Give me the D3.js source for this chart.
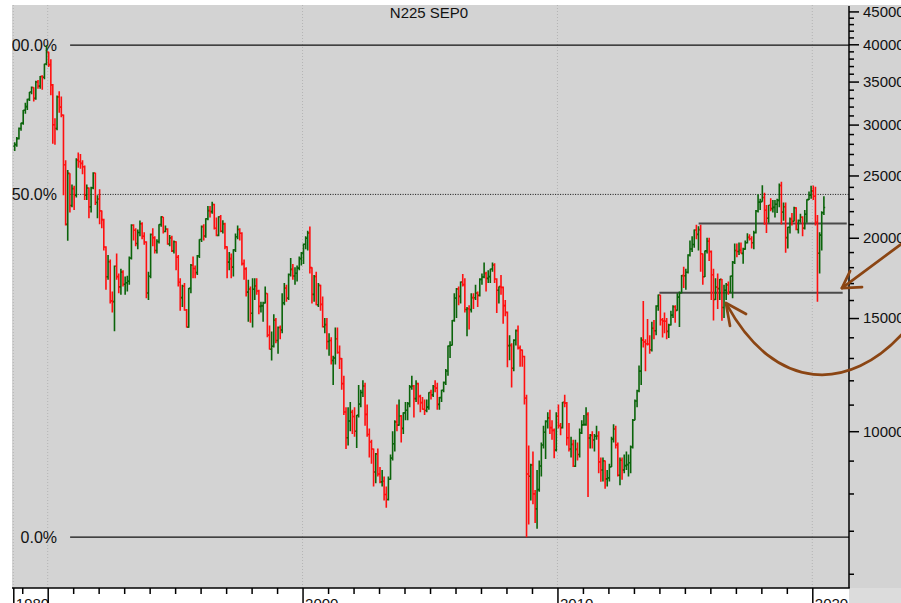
<!DOCTYPE html>
<html><head><meta charset="utf-8">
<script src="https://cdn.jsdelivr.net/npm/d3@7"></script>
<style>
html,body{margin:0;padding:0;background:#fff;}
svg{display:block;font-family:"Liberation Sans",Arial,Helvetica,sans-serif;}
</style>
</head><body>
<svg id="chart" width="901" height="603"></svg>
<script>
// ---------------- DATA ----------------
const chartTitle = "N225 SEP0";
const firstMonth = [1988, 8];   // September 1988, monthly bars

const open = [
27770,27920,28530,29580,
30160,31580,31990,32840,33710,34270,32950,34950,34430,35640,35550,37270,
38920,37190,34590,29980,29580,33130,31940,31040,25980,20980,25190,22450,
23850,23290,26410,26290,26110,25790,23290,23900,22340,23920,25220,22690,
22980,22020,21340,19350,17390,18350,15950,15910,18060,17400,16770,17680,
16930,17020,17110,18590,20920,20550,19590,20380,21030,20110,19700,16410,
17420,20230,20000,19110,19730,20970,21550,20450,20630,19560,19990,19080,
19720,18650,17050,16140,16810,15440,14520,16680,18120,17910,17650,18740,
19870,20810,20130,21410,22040,21960,22530,20690,20170,21560,20470,21020,
19360,18330,18560,18000,19150,20070,20600,20330,18230,17890,16460,16640,
15260,16630,16830,16530,15640,15670,15830,16380,14110,13410,13560,14880,
13840,14500,14370,15840,16700,16110,17530,17860,17440,17610,17940,18560,
18930,19540,19960,20340,17970,16330,17410,15730,16860,15750,14540,14650,
13790,13840,12880,13000,13930,13260,12970,11860,10710,9770,10370,10700,
10540,10000,10590,11020,11490,11760,10620,9880,9620,9380,8640,9220,
8580,8340,8360,7970,7830,8420,9080,9560,10340,10220,10560,10100,
10680,10780,11040,11720,11760,11240,11860,11330,11080,10820,10770,10900,
11490,11390,11740,11670,11010,11280,11580,11900,12410,13570,13610,14870,
16110,16650,16210,17060,16910,15470,15510,15460,16140,16130,16400,16270,
17230,17380,17600,17290,17400,17880,18140,17250,16570,16790,16740,15680,
15310,13590,13600,12530,13850,14340,13480,13380,13070,11260,8580,8510,
8860,7990,7570,8110,8830,9520,9960,10360,10490,10130,10030,9350,
10550,10200,10130,11090,11060,9770,9380,9540,8820,9370,9200,9940,
10230,10240,10620,9760,9850,9690,9820,9830,8960,8700,8990,8430,
8460,8800,9720,10080,9520,8540,9010,8700,8840,8870,8930,9450,
10400,11140,11560,12400,13860,13770,13680,13670,13390,14460,14330,15660,
16290,14910,14840,14830,14300,14630,15160,15620,15420,16170,16410,17460,
17450,17670,18800,19210,19520,20560,20240,20590,18890,17390,19080,19750,
19030,17520,16030,16760,16670,17230,15580,16570,16890,16450,17430,18310,
19110,19040,19120,18910,19200,19650,20030,19930,19650,20360,22010,22720,
22760,23100,22070,21450,22470,22200,22300,22550,22870,24120,21920,22350,
20010,20770,21390,21210,22260,20600,21280,21520,20700,21760,22930,23290,
23660,23210,21140,18920,20190,21880
];
const high = [
28160,28700,29700,30200,
31600,32450,32900,33720,34400,34300,35100,35200,35700,35800,37300,39880,
38950,37900,34700,30700,33300,33800,33180,31100,26400,25500,25200,24200,
24100,26600,27150,27000,26400,25900,24200,23950,24000,25300,25250,23300,
23800,22050,21400,19400,18800,18500,16500,18100,18900,17600,17900,17800,
17400,17450,18700,21000,21000,20700,20600,21280,21150,20400,19750,17700,
20300,20700,20100,19900,21000,21600,21550,20900,20700,20200,20150,19800,
19750,18800,17300,16900,17000,15500,16700,18200,18700,18100,18800,19900,
20900,21000,21450,22400,22400,22750,22600,21500,21600,21700,21300,21100,
19400,19000,18900,19200,20300,20900,20700,20400,18500,18000,17200,16800,
17300,17300,17300,16600,15900,15900,16800,16400,14600,14300,15200,15000,
14550,14600,16400,17000,16900,17600,18600,18200,18000,18100,18700,19000,
19600,20100,20500,20830,18000,17500,17700,17000,16900,16200,15000,15000,
14200,14000,13100,14500,14500,13600,13000,12200,10900,10900,11100,10800,
10900,10600,11800,11600,12000,11900,11000,10100,9700,9400,9250,9400,
8800,8700,8500,8200,8500,9200,10000,10400,11000,11200,10600,10700,
11100,11100,11800,12200,11800,12000,11900,11400,11300,11200,11200,11500,
11600,11800,12000,11900,11300,11600,11950,12500,13600,13800,14900,16400,
16700,16800,17100,17560,17300,15600,15700,16400,16400,16900,16500,17300,
17600,18300,17700,17800,17900,18300,18260,17300,16800,17500,16800,16000,
15350,14100,13700,13900,14400,14600,13600,13400,13100,11400,9500,8900,
9300,8100,8700,9000,9600,10200,10400,10700,10800,10400,10100,10700,
11000,10300,11100,11400,11100,10300,9800,9700,9700,9600,10100,10400,
10600,10900,10700,9900,10000,9900,10200,10000,9100,9100,9000,8700,
8900,9800,10250,10200,9600,9100,9100,9200,9300,9200,9500,10450,
11200,11600,12650,14000,15940,13900,14950,14100,14800,14900,15700,16320,
16300,15000,15300,15000,14700,15400,15700,15700,16400,16500,17500,18030,
17900,18850,19800,20100,20600,20950,20850,20950,18900,19100,20000,20000,
19100,17900,17300,17600,17250,17250,16900,17000,17100,17450,18400,19600,
19600,19670,19670,19300,19800,20320,20250,20100,20500,22100,23380,23000,
24130,23500,22500,22500,23050,22900,22900,23000,24300,24450,22700,22700,
20800,21500,21850,22350,22300,21350,21800,21600,22100,22950,23600,24090,
24120,24000,21700,20400,22000,23200
];
const low = [
27300,27720,28450,29350,
29990,31200,31600,32650,33450,32600,32800,34100,34100,34000,35300,37100,
36860,33320,28000,27900,29400,31300,30800,23300,20900,19780,21900,22300,
22100,23100,25700,25600,25100,22900,22900,21450,21900,23800,22500,21450,
21000,20700,19100,16600,17200,15800,15300,14310,17200,16400,16300,16800,
16300,16500,16900,18500,19800,19400,19200,20100,19900,19500,16100,16000,
17300,19400,18900,18900,19600,20800,20300,20400,19500,19400,19000,18900,
17800,16800,15400,15600,15400,14500,14490,16400,17300,17300,17500,18600,
19700,19800,20000,21300,21500,21800,20600,20100,20100,20400,20300,19200,
17300,17800,17300,17400,19000,19900,19800,18100,17200,16200,14800,14750,
14500,16000,16300,15200,15300,14800,15800,14000,13400,12880,13500,13700,
13200,13900,14200,15700,15900,16000,17400,17200,16900,17100,17800,18100,
18200,19200,19100,17600,15800,15900,15700,15600,15400,14500,14200,13400,
13100,12700,11800,12700,13200,12500,11600,10600,9380,9500,10000,9900,
9800,9420,10500,10900,11300,10200,9800,9100,8900,8200,8300,8500,
8300,8200,7800,7600,7800,8400,9000,9300,10000,10200,9600,9900,
10400,10400,10900,11600,10500,11100,11000,10700,10800,10600,10700,10800,
11200,11300,11500,10800,10800,11100,11500,11800,12200,13000,13600,14800,
15000,15700,15800,16800,15300,14050,14400,15300,15500,16000,15600,16200,
16900,17300,16500,17000,17000,17700,17000,15270,15800,16300,14700,15100,
12570,12900,11690,12400,13600,13400,12600,12600,11000,6840,7160,7800,
7700,7200,7050,8050,8500,9400,9050,10100,9900,9700,9080,9300,
10100,9860,10100,10900,9500,9300,9100,8800,8800,9000,9100,9900,
10200,10200,7900,9400,9400,9300,9700,8600,8340,8350,8140,8200,
8350,8800,9600,9400,8500,8240,8400,8600,8700,8500,8600,9400,
10400,10900,11500,11800,13500,12400,13600,13200,13300,13900,14100,15400,
14600,13990,14200,13900,13960,14600,15000,14750,15400,14530,16400,16700,
16600,17600,18700,19000,19300,19900,19100,17700,16900,17380,18900,18400,
16000,14870,16000,15500,16000,14860,15000,16000,16300,16400,16100,18200,
18650,18800,18900,18220,19150,19600,19800,19250,19200,20300,21900,22100,
22750,20950,20350,21100,22000,21900,21500,21850,22300,20970,21250,18950,
19250,20300,20900,21200,20550,20300,21100,20110,20600,21100,22900,23000,
22900,20900,15900,17600,19100,21700
];
const close = [
27920,28530,29580,30160,
31580,31990,32840,33710,34270,32950,34950,34430,35640,35550,37270,38920,
37190,34590,29980,29580,33130,31940,31040,25980,20980,25190,22450,23850,
23290,26410,26290,26110,25790,23290,23900,22340,23920,25220,22690,22980,
22020,21340,19350,17390,18350,15950,15910,18060,17400,16770,17680,16930,
17020,17110,18590,20920,20550,19590,20380,21030,20110,19700,16410,17420,
20230,20000,19110,19730,20970,21550,20450,20630,19560,19990,19080,19720,
18650,17050,16140,16810,15440,14520,16680,18120,17910,17650,18740,19870,
20810,20130,21410,22040,21960,22530,20690,20170,21560,20470,21020,19360,
18330,18560,18000,19150,20070,20600,20330,18230,17890,16460,16640,15260,
16630,16830,16530,15640,15670,15830,16380,14110,13410,13560,14880,13840,
14500,14370,15840,16700,16110,17530,17860,17440,17610,17940,18560,18930,
19540,19960,20340,17970,16330,17410,15730,16860,15750,14540,14650,13790,
13840,12880,13000,13930,13260,12970,11860,10710,9770,10370,10700,10540,
10000,10590,11020,11490,11760,10620,9880,9620,9380,8640,9220,8580,
8340,8360,7970,7830,8420,9080,9560,10340,10220,10560,10100,10680,
10780,11040,11720,11760,11240,11860,11330,11080,10820,10770,10900,11490,
11390,11740,11670,11010,11280,11580,11900,12410,13570,13610,14870,16110,
16650,16210,17060,16910,15470,15510,15460,16140,16130,16400,16270,17230,
17380,17600,17290,17400,17880,18140,17250,16570,16790,16740,15680,15310,
13590,13600,12530,13850,14340,13480,13380,13070,11260,8580,8510,8860,
7990,7570,8110,8830,9520,9960,10360,10490,10130,10030,9350,10550,
10200,10130,11090,11060,9770,9380,9540,8820,9370,9200,9940,10230,
10240,10620,9760,9850,9690,9820,9830,8960,8700,8990,8430,8460,
8800,9720,10080,9520,8540,9010,8700,8840,8870,8930,9450,10400,
11140,11560,12400,13860,13770,13680,13670,13390,14460,14330,15660,16290,
14910,14840,14830,14300,14630,15160,15620,15420,16170,16410,17460,17450,
17670,18800,19210,19520,20560,20240,20590,18890,17390,19080,19750,19030,
17520,16030,16760,16670,17230,15580,16570,16890,16450,17430,18310,19110,
19040,19120,18910,19200,19650,20030,19930,19650,20360,22010,22720,22760,
23100,22070,21450,22470,22200,22300,22550,22870,24120,21920,22350,20010,
20770,21390,21210,22260,20600,21280,21520,20700,21760,22930,23290,23660,
23210,21140,18920,20190,21880,22290
];

const priceTickLabels = ["10000","15000","20000","25000","30000","35000","40000","45000"];
const priceTickValues = [10000,15000,20000,25000,30000,35000,40000,45000];
const decadeTickLabels = ["1980","","2000","2010","2020"];
const decadeTickYears  = [1988.65,1990,2000,2010,2020];
const retraceLabels = ["100.0%","50.0%","0.0%"];
const retraceRatios = [1, 0.5, 0];
const retraceStartYear = 1990.88;

const supportLevels = [21050, 16420];
const supportStartYears = [2015.54, 2014.0];
const supportEndYears = [2021.35, 2021.19];

// hand-drawn annotations, in [year, price]
const arrowLine = [[2023.6,19700],[2021.16,16700]];
const arrowLineHead = [[2021.48,17750],[2021.16,16700],[2021.95,16760]];
const arrowCurve = [[2023.6,14270],[2021.48,11470],[2018.54,11470],[2016.65,15720]];
const arrowCurveHead = [[2017.40,15220],[2016.61,15830],[2016.77,14580]];

// ---------------- LAYOUT ----------------
const W = 901, H = 603;
const plotL = 12, plotR = 849, plotT = 5, plotB = 588;
const GREEN = "#0b640b", RED = "#ff1010", BROWN = "#8b4513";

const svg = d3.select("#chart");
const yr = v => { const y = Math.floor(v); const f = v - y;
  const a = new Date(y,0,1), b = new Date(y+1,0,1);
  return new Date(+a + f*(b-a)); };

const x = d3.scaleTime().domain([new Date(1990,0,1), new Date(2020,0,1)]).range([47.7, 812.3]);
const y = d3.scaleLog().domain([10000, 40000]).range([431.2, 44.3]);

// backgrounds
svg.append("rect").attr("width",W).attr("height",H).attr("fill","#ffffff");
svg.append("rect").attr("x",plotL).attr("y",plotT).attr("width",W-plotL).attr("height",plotB-plotT).attr("fill","#d3d3d3");
svg.append("rect").attr("x",plotR).attr("y",plotB).attr("width",W-plotR).attr("height",H-plotB).attr("fill","#dcdcdc");

svg.append("clipPath").attr("id","clip").append("rect")
  .attr("x",plotL).attr("y",plotT).attr("width",plotR-plotL).attr("height",plotB-plotT);
const g = svg.append("g").attr("clip-path","url(#clip)");

// vertical dotted grid
g.selectAll("line.vg").data(decadeTickYears).join("line")
  .attr("x1",d=>x(yr(d))).attr("x2",d=>x(yr(d))).attr("y1",plotT).attr("y2",plotB)
  .attr("stroke","#b4b4b4").attr("stroke-width",1).attr("stroke-dasharray","1,2");

// retracement levels
const hiMax = d3.max(high), loMin = d3.min(low);
const levels = retraceRatios.map(r => loMin + r*(hiMax-loMin));
g.selectAll("line.lv").data(levels).join("line")
  .attr("x1",x(yr(retraceStartYear))).attr("x2",plotR)
  .attr("y1",d=>y(d)).attr("y2",d=>y(d))
  .attr("stroke","#111").attr("stroke-width",(d,i)=>i===1?1:1.3)
  .attr("stroke-dasharray",(d,i)=>i===1?"1,1.5":null);
g.selectAll("text.lv").data(levels).join("text")
  .attr("x",57).attr("y",d=>y(d)).attr("dy","0.36em")
  .attr("text-anchor","end").attr("font-size",16).attr("fill","#111")
  .text((d,i)=>retraceLabels[i]);

// support lines
g.selectAll("line.sp").data(supportLevels).join("line")
  .attr("x1",(d,i)=>x(yr(supportStartYears[i]))).attr("x2",(d,i)=>x(yr(supportEndYears[i])))
  .attr("y1",d=>y(d)).attr("y2",d=>y(d))
  .attr("stroke","#4a4a4a").attr("stroke-width",2);

// OHLC bars
const n = Math.min(open.length, high.length, low.length, close.length);
const bars = d3.range(n).map(i => ({
  date: new Date(firstMonth[0], firstMonth[1]+i, 15),
  o: open[i], h: high[i], l: low[i], c: close[i]
}));
const tk = 1.3;
g.append("g").selectAll("path").data(bars).join("path")
  .attr("d", d => { const cx = x(d.date);
    return `M${cx},${y(d.h)}V${y(d.l)}M${cx-tk},${y(d.o)}H${cx}M${cx},${y(d.c)}H${cx+tk}`; })
  .attr("fill","none").attr("stroke", d => d.c >= d.o ? GREEN : RED)
  .attr("stroke-width",1.6);

// title
svg.append("text").attr("x",429).attr("y",18).attr("text-anchor","middle")
  .attr("font-size",15).attr("fill","#111").text(chartTitle);

// right axis
const ax = svg.append("g").attr("transform",`translate(${plotR},0)`);
ax.append("line").attr("x1",0).attr("x2",0).attr("y1",plotT+1).attr("y2",plotB).attr("stroke","#000").attr("stroke-width",1.5);
const minorP = d3.range(6000, 45001, 1000).filter(v => !priceTickValues.includes(v));
const axMinor = ax.append("g").call(d3.axisRight(y).tickValues(minorP).tickSize(5).tickFormat(""));
const axMajor = ax.append("g").call(d3.axisRight(y).tickValues(priceTickValues).tickSize(10).tickPadding(4)
  .tickFormat((d,i)=>priceTickLabels[i]));
[axMinor, axMajor].forEach(a => { a.select(".domain").remove();
  a.selectAll("line").attr("stroke","#000").attr("stroke-width",1.5); });
axMajor.selectAll("text").attr("font-size",15).attr("fill","#111")
  .attr("font-family","'Liberation Sans',Arial,sans-serif");

// bottom axis
const bx = svg.append("g").attr("transform",`translate(0,${plotB})`);
bx.append("line").attr("x1",plotL).attr("x2",plotR+0.75).attr("y1",0).attr("y2",0).attr("stroke","#000").attr("stroke-width",1.5);
const minorYears = d3.range(1989, 2021).filter(v => v % 10 !== 0);
const bxMinor = bx.append("g").call(d3.axisBottom(x).tickValues(minorYears.map(v=>yr(v))).tickSize(6).tickFormat(""));
const bxMajor = bx.append("g").call(d3.axisBottom(x).tickValues(decadeTickYears.map(v=>yr(v))).tickSize(20)
  .tickFormat((d,i)=>decadeTickLabels[i]));
[bxMinor, bxMajor].forEach(a => { a.select(".domain").remove();
  a.selectAll("line").attr("stroke","#000").attr("stroke-width",1.5); });
bxMajor.selectAll("text").attr("font-size",15).attr("fill","#111").attr("text-anchor","start")
  .attr("x",2).attr("y",21).attr("dy",0)
  .attr("font-family","'Liberation Sans',Arial,sans-serif");

// annotations (brown arrows)
const P = p => [x(yr(p[0])), y(p[1])];
const ann = svg.append("g").attr("fill","none").attr("stroke",BROWN).attr("stroke-width",2.7)
  .attr("stroke-linecap","round").attr("stroke-linejoin","round");
ann.append("path").attr("d", d3.line()(arrowLine.map(P)));
ann.append("path").attr("d", d3.line()(arrowLineHead.map(P)));
const c = arrowCurve.map(P);
ann.append("path").attr("d", `M${c[0]}C${c[1]} ${c[2]} ${c[3]}`);
ann.append("path").attr("d", d3.line()(arrowCurveHead.map(P)));
</script>
</body></html>
